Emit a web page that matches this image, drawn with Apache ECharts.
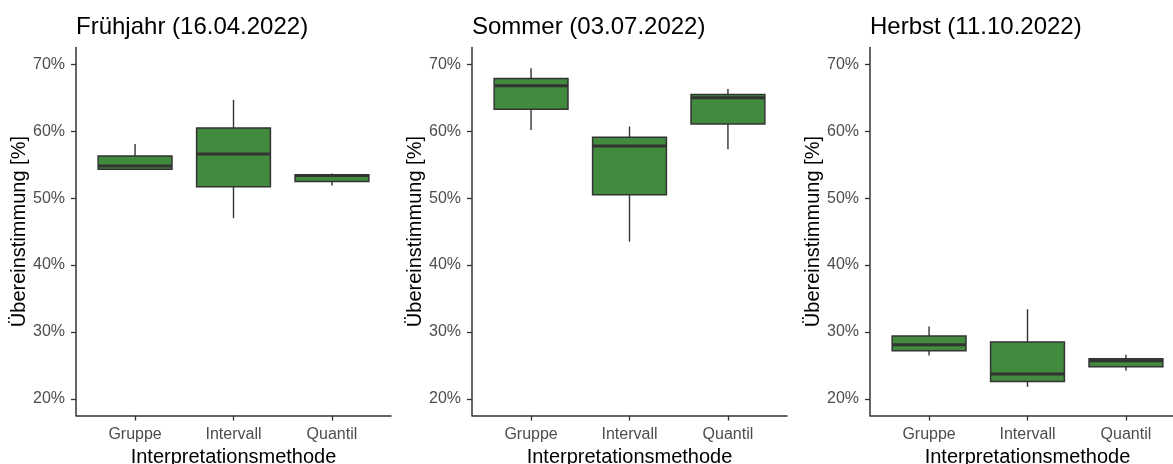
<!DOCTYPE html>
<html>
<head>
<meta charset="utf-8">
<title>Übereinstimmung nach Interpretationsmethode</title>
<script src="https://cdn.jsdelivr.net/npm/echarts@6/dist/echarts.min.js"></script>
<style>
  html, body { margin: 0; padding: 0; background: #ffffff; }
  #chart { width: 1173px; height: 464px; }
</style>
</head>
<body>
<div id="chart"></div>
<script>
// Interpretation methods on the x axis
const categories = ['Gruppe', 'Intervall', 'Quantil'];

// Panel titles (season and survey date)
const panelTitles = ['Frühjahr (16.04.2022)', 'Sommer (03.07.2022)', 'Herbst (11.10.2022)'];

// Box statistics per method, in percent: [min, Q1, median, Q3, max]
const fruehjahrStats = [
  [54.2, 54.3, 54.8, 56.3, 58.1],
  [47.0, 51.7, 56.6, 60.5, 64.7],
  [51.9, 52.5, 53.4, 53.5, 53.7]
];
const sommerStats = [
  [60.2, 63.3, 66.8, 67.9, 69.4],
  [43.5, 50.5, 57.8, 59.1, 60.7],
  [57.3, 61.1, 65.0, 65.5, 66.3]
];
const herbstStats = [
  [26.5, 27.2, 28.1, 29.4, 30.8],
  [21.8, 22.6, 23.7, 28.5, 33.4],
  [24.2, 24.8, 25.7, 26.0, 26.6]
];

// Y axis tick values (percent)
const yTicks = [20, 30, 40, 50, 60, 70];

const panelStats = [fruehjahrStats, sommerStats, herbstStats];

const FONT = '"Liberation Sans", Arial, sans-serif';
const FILL = '#428a3e';
const EDGE = '#333333';
const panelLeft = [76, 472, 870];
const gridTop = 47.6;
const gridHeight = 368;
const gridWidth = 315;
const BOX_W = 0.75;

const chart = echarts.init(document.getElementById('chart'), null, { renderer: 'canvas' });

// Draws one ggplot-style box: whiskers without caps, filled box, thick median
function renderBox(params, api) {
  const x = api.value(0);
  const vMin = api.value(1), q1 = api.value(2), med = api.value(3), q3 = api.value(4), vMax = api.value(5);
  const pMax = api.coord([x, vMax]);
  const pQ3 = api.coord([x, q3]);
  const pQ1 = api.coord([x, q1]);
  const pMin = api.coord([x, vMin]);
  const left = api.coord([x - BOX_W / 2, med])[0];
  const right = api.coord([x + BOX_W / 2, med])[0];
  const pMed = api.coord([x, med]);
  const lineStyle = { stroke: EDGE, lineWidth: 1.4 };
  return {
    type: 'group',
    children: [
      { type: 'line', shape: { x1: pMax[0], y1: pMax[1], x2: pQ3[0], y2: pQ3[1] }, style: lineStyle },
      { type: 'line', shape: { x1: pQ1[0], y1: pQ1[1], x2: pMin[0], y2: pMin[1] }, style: lineStyle },
      { type: 'rect', shape: { x: left, y: pQ3[1], width: right - left, height: pQ1[1] - pQ3[1] },
        style: { fill: FILL, stroke: EDGE, lineWidth: 1.5 } },
      { type: 'line', shape: { x1: left, y1: pMed[1], x2: right, y2: pMed[1] },
        style: { stroke: EDGE, lineWidth: 3 } }
    ]
  };
}

const titles = [], grids = [], xAxes = [], yAxes = [], series = [];

panelStats.forEach(function (stats, i) {
  titles.push({
    text: panelTitles[i],
    left: panelLeft[i],
    top: 15,
    padding: 0,
    textStyle: { fontFamily: FONT, fontSize: 24, fontWeight: 'normal', color: '#000000' }
  });
  grids.push({
    left: panelLeft[i], top: gridTop, width: gridWidth, height: gridHeight,
    containLabel: false, outerBoundsMode: 'none'
  });
  xAxes.push({
    gridIndex: i,
    type: 'value',
    min: 0.4,
    max: 3.6,
    name: 'Interpretationsmethode',
    nameLocation: 'middle',
    nameGap: 28,
    nameTextStyle: { fontFamily: FONT, fontSize: 20, color: '#000000' },
    axisLine: { show: true, onZero: false, lineStyle: { color: EDGE, width: 1.5 } },
    axisTick: { show: true, length: 5, lineStyle: { color: EDGE, width: 1.3 }, customValues: [1, 2, 3] },
    axisLabel: {
      customValues: [1, 2, 3],
      margin: 11,
      fontFamily: FONT, fontSize: 16, color: '#4d4d4d',
      formatter: function (v) { return categories[Math.round(v) - 1]; }
    },
    splitLine: { show: false }
  });
  yAxes.push({
    gridIndex: i,
    type: 'value',
    min: 17.5,
    max: 72.5,
    name: 'Übereinstimmung [%]',
    nameLocation: 'middle',
    nameGap: 47,
    nameRotate: 90,
    nameTextStyle: { fontFamily: FONT, fontSize: 20, color: '#000000' },
    axisLine: { show: true, onZero: false, lineStyle: { color: EDGE, width: 1.5 } },
    axisTick: { show: true, length: 5, lineStyle: { color: EDGE, width: 1.3 }, customValues: yTicks },
    axisLabel: {
      customValues: yTicks,
      margin: 11,
      fontFamily: FONT, fontSize: 16, color: '#4d4d4d',
      formatter: function (v) { return v + '%'; }
    },
    splitLine: { show: false }
  });
  series.push({
    type: 'custom',
    xAxisIndex: i,
    yAxisIndex: i,
    renderItem: renderBox,
    encode: { x: 0, y: [1, 2, 3, 4, 5] },
    data: stats.map(function (s, k) { return [k + 1].concat(s); }),
    silent: true
  });
});

chart.setOption({
  animation: false,
  backgroundColor: '#ffffff',
  title: titles,
  grid: grids,
  xAxis: xAxes,
  yAxis: yAxes,
  series: series
});
</script>
</body>
</html>
